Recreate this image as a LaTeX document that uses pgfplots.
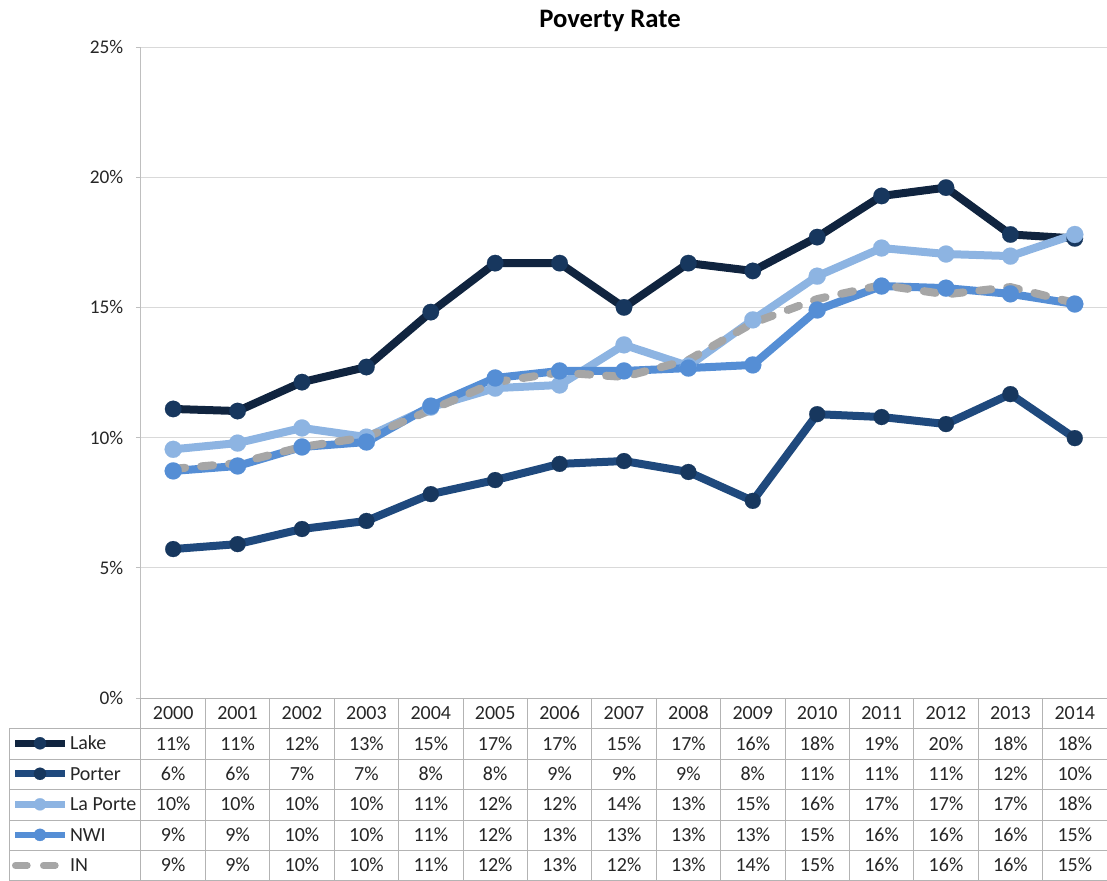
\documentclass[border=0pt]{standalone}
\usepackage{fontspec}
\setmainfont{Carlito}
\usepackage{pgfplots}
\usepackage{pgfplotstable}
\pgfplotsset{compat=1.18}

\definecolor{lakeL}{HTML}{10243F}
\definecolor{lakeM}{HTML}{17375E}
\definecolor{porterL}{HTML}{1F497D}
\definecolor{porterM}{HTML}{17375E}
\definecolor{laporte}{HTML}{8DB4E2}
\definecolor{nwi}{HTML}{558ED5}
\definecolor{ingray}{HTML}{A6A6A6}
\definecolor{gridc}{HTML}{D9D9D9}
\definecolor{axisc}{HTML}{BFBFBF}
\definecolor{tablec}{HTML}{B3B3B3}
\definecolor{txt}{HTML}{262626}

\pgfplotstableread{
yr Lake Porter LaPorte NWI IN
0  11.10 5.72  9.55  8.72  8.80
1  11.02 5.91  9.79  8.91  9.02
2  12.13 6.49  10.37 9.64  9.64
3  12.71 6.80  10.02 9.83  10.02
4  14.82 7.83  11.17 11.21 11.06
5  16.70 8.37  11.90 12.29 12.13
6  16.70 8.99  12.02 12.56 12.50
7  15.00 9.10  13.56 12.56 12.33
8  16.70 8.68  12.75 12.67 12.98
9  16.40 7.57  14.52 12.79 14.40
10 17.70 10.90 16.20 14.90 15.32
11 19.28 10.79 17.28 15.82 15.86
12 19.60 10.52 17.05 15.74 15.50
13 17.80 11.67 16.97 15.52 15.78
14 17.65 9.98  17.80 15.13 15.17
}\data

\begin{document}
\begin{tikzpicture}[x=0.75pt,y=0.75pt]
\useasboundingbox (-141,-182.5) rectangle (966,698);
\begin{axis}[
  at={(0,0)}, anchor=south west,
  scale only axis, width=724.5pt, height=488.25pt,
  xmin=-0.5, xmax=14.5, ymin=0, ymax=25,
  axis lines*=left,
  axis line style={draw=axisc, line width=0.75pt},
  xtick=\empty,
  ytick={0,5,10,15,20,25},
  yticklabels={0\%,5\%,10\%,15\%,20\%,25\%},
  yticklabel style={font=\fontsize{14.5}{16}\selectfont, text=txt, xshift=-6pt},
  ytick pos=left, tick align=outside, major tick length=3.75pt,
  tick style={draw=axisc, line width=0.75pt},
  ymajorgrids, grid style={draw=gridc, line width=0.75pt},
  clip=false,
  legend image code/.code={\draw[mark repeat=2,mark phase=2,#1,line width=5pt,mark size=4.6pt] plot coordinates {(0pt,0pt) (18.5pt,0pt) (37pt,0pt)};},
  legend style={at={(-129/966,-30/651)}, anchor=north west, draw=none, fill=none,
    inner sep=0pt, outer sep=0pt, row sep=0pt, column sep=1.5pt,
    font=\fontsize{15}{17}\selectfont, text=txt,
    nodes={inner sep=0pt, text height=16.3pt, text depth=6.6pt}},
  legend cell align=left,
]
\addplot[color=lakeL, line width=6pt, line join=round, mark=*, mark size=6.2pt,
  mark options={draw=lakeM, fill=lakeM, line width=0.1pt, solid}] table[x=yr,y=Lake]{\data};
\addlegendentry{Lake}
\addplot[color=porterL, line width=6pt, line join=round, mark=*, mark size=6.0pt,
  mark options={draw=porterM, fill=porterM, line width=0.1pt, solid}] table[x=yr,y=Porter]{\data};
\addlegendentry{Porter}
\addplot[color=laporte, line width=6pt, line join=round, mark=*, mark size=6.4pt,
  mark options={draw=laporte, fill=laporte, line width=0.1pt, solid}] table[x=yr,y=LaPorte]{\data};
\addlegendentry{La Porte}
\addplot[color=nwi, line width=6pt, line join=round, mark=*, mark size=6.4pt,
  mark options={draw=nwi, fill=nwi, line width=0.1pt, solid}] table[x=yr,y=NWI]{\data};
\addlegendentry{NWI}
\addplot[color=ingray, line width=6pt, line join=round, line cap=round,
  dash pattern=on 9pt off 12pt, no markers] table[x=yr,y=IN]{\data};
\addlegendentry{IN}
\end{axis}

% title
\node[font=\bfseries\fontsize{20}{23}\selectfont, text=black, anchor=base] at (469,670) {Poverty Rate};

% table grid
\begin{scope}[draw=tablec, line width=0.75pt]
  \draw (0,0) -- (966,0);
  \foreach \yy in {-30,-61,-91.5,-122,-152.5,-182} {\draw (-131,\yy) -- (966,\yy);}
  \foreach \k in {0,...,15} {\draw ({\k*64.4},0) -- ({\k*64.4},-182.5);}
  \draw (-131,-30) -- (-131,-182.5);
\end{scope}

% header years
\foreach \c in {0,...,14} {
  \pgfmathtruncatemacro{\yr}{2000+\c}
  \node[font=\fontsize{15}{17}\selectfont, text=txt, anchor=base, inner sep=0pt] at ({(\c+0.5)*64.4},-21.5) {\yr};
}
% values
\foreach \vals [count=\r] in {
  {11,11,12,13,15,17,17,15,17,16,18,19,20,18,18},
  {6,6,7,7,8,8,9,9,9,8,11,11,11,12,10},
  {10,10,10,10,11,12,12,14,13,15,16,17,17,17,18},
  {9,9,10,10,11,12,13,13,13,13,15,16,16,16,15},
  {9,9,10,10,11,12,13,12,13,14,15,16,16,16,15}} {
  \foreach \v [count=\c] in \vals {
    \node[font=\fontsize{15}{17}\selectfont, text=txt, anchor=base, inner sep=0pt] at ({(\c-0.5)*64.4},{-30.4*\r-15.2-6.5}) {\v\%};
  }
}
\end{tikzpicture}
\end{document}
